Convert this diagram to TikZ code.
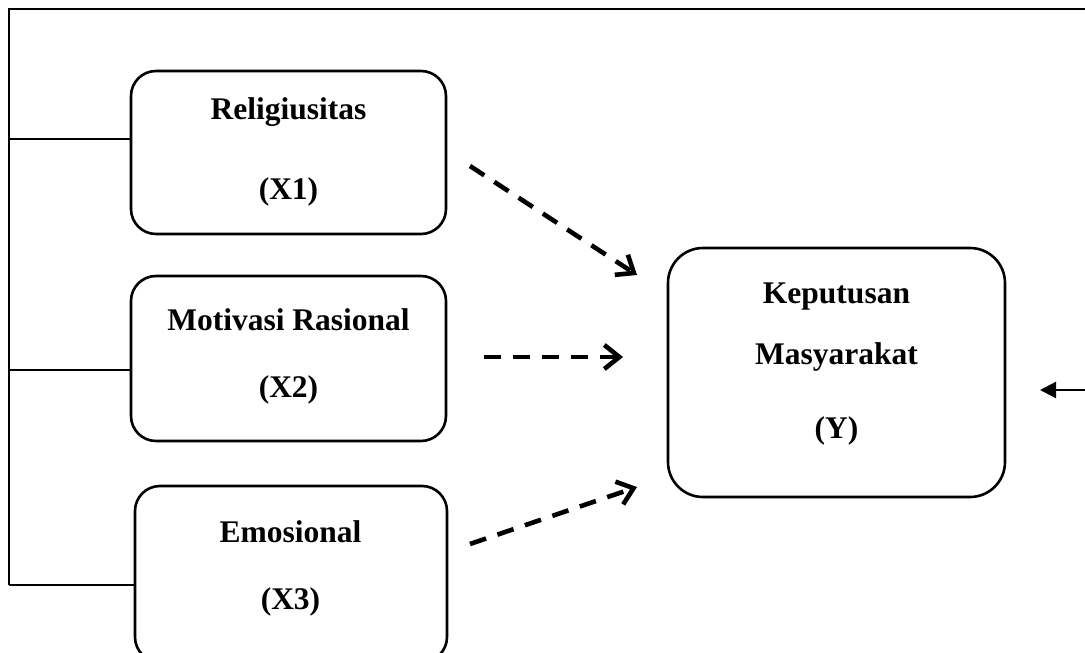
\documentclass[tikz,border=0pt]{standalone}
\usepackage{fontspec}
\setmainfont{Liberation Serif}
\usetikzlibrary{arrows.meta}
\begin{document}
\begin{tikzpicture}[x=1pt,y=-1pt,
  varbox/.style={draw, line width=2.6pt, rounded corners=25pt, inner sep=0pt},
  lbl/.style={font=\fontsize{31.5}{36}\selectfont\bfseries, inner sep=0pt},
  frameline/.style={line width=1.8pt},
  dasharrow/.style={line width=4.6pt, dash pattern=on 17pt off 12pt,
    -{Straight Barb[length=15pt,width=24pt,line width=4.6pt]}},
  inarrow/.style={line width=2.2pt, -{Triangle[length=16pt,width=16pt]}}
]
\useasboundingbox (0,0) rectangle (1085,653);
\clip (0,0) rectangle (1085,653);
\fill[white] (0,0) rectangle (1085,653);

% boxes
\node[varbox, minimum width=315pt, minimum height=163pt] (X1) at (288.5,152.5) {};
\node[varbox, minimum width=315pt, minimum height=165pt] (X2) at (288.5,358.5) {};
\node[varbox, minimum width=312pt, minimum height=176pt] (X3) at (291,574) {};
\node[varbox, rounded corners=35pt, minimum width=337pt, minimum height=249pt] (Y) at (836.5,372.5) {};

% labels
\node[lbl] (t1a) at (288.5,112) {Religiusitas};
\node[lbl] (t1b) at (288.5,192) {(X1)};
\node[lbl] (t2a) at (288.5,320) {Motivasi Rasional};
\node[lbl] (t2b) at (288.5,390) {(X2)};
\node[lbl] (t3a) at (290.5,532) {Emosional};
\node[lbl] (t3b) at (290.5,602) {(X3)};
\node[lbl] (tya) at (836.5,297) {Keputusan};
\node[lbl] (tyb) at (836.5,357) {Masyarakat};
\node[lbl] (tyc) at (836.5,431) {(Y)};

% frame
\coordinate (ftr) at (1100,9);
\coordinate (ftl) at (9,9);
\coordinate (f1) at (9,139);
\coordinate (f2) at (9,370);
\coordinate (f3) at (9,585);
\draw[frameline] (ftr) -- (ftl) -- (f3);
\draw[frameline] (f1) -- (f1 -| X1.west);
\draw[frameline] (f2) -- (f2 -| X2.west);
\draw[frameline] (f3) -- (f3 -| X3.west);

% incoming arrow on the right
\coordinate (rin) at (1100,390);
\coordinate (rtip) at (1040,390);
\draw[inarrow] (rin) -- (rtip);

% dashed arrows
\coordinate (a1s) at (470,166);
\coordinate (a1e) at (637,275);
\coordinate (a2s) at (484,357);
\coordinate (a2e) at (623,357);
\coordinate (a3s) at (470,544);
\coordinate (a3e) at (637,487);
\draw[dasharrow] (a1s) -- (a1e);
\draw[dasharrow] (a2s) -- (a2e);
\draw[dasharrow] (a3s) -- (a3e);
\end{tikzpicture}
\end{document}
